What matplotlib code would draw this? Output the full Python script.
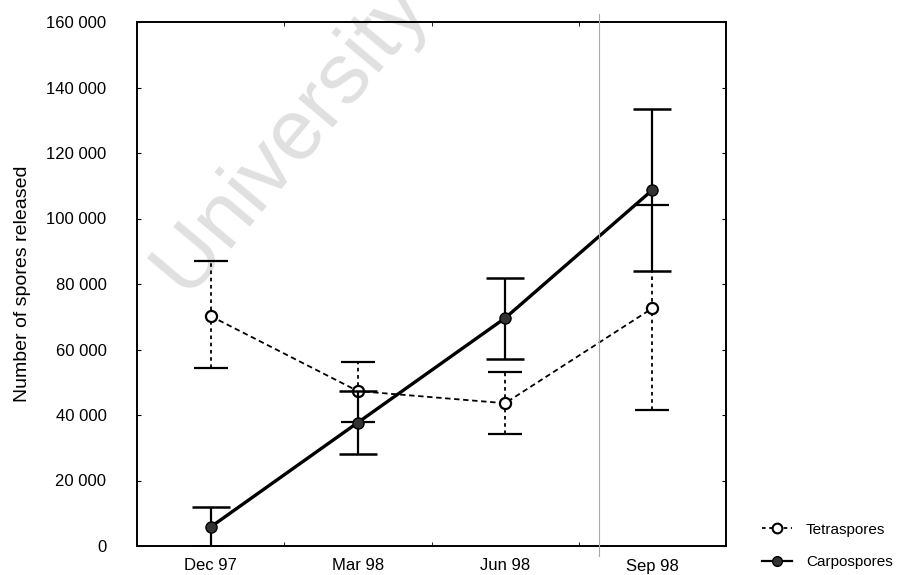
import matplotlib.pyplot as plt
from matplotlib.lines import Line2D
from matplotlib.ticker import FuncFormatter, FixedLocator

plt.rcParams['font.family'] = ['Liberation Sans', 'DejaVu Sans']

# Data
months = ['Dec 97', 'Mar 98', 'Jun 98', 'Sep 98']
tetra = [70200, 47300, 43600, 72600]
tetra_lo = [54300, 37900, 34100, 41500]
tetra_hi = [87000, 56300, 53200, 104100]
carpo = [5800, 37700, 69600, 108700]
carpo_lo = [0, 28000, 57000, 84100]
carpo_hi = [12000, 47300, 81900, 133500]

x = list(range(len(months)))

fig = plt.figure(figsize=(9.01, 5.75), dpi=100)
ax = fig.add_axes([137/901, 29/575, 589/901, 524/575])
ax.set_facecolor('none')

# faint watermark from the scan
fig.text(188/901, 1 - 300/575, 'University of Cape Town', rotation=50,
         fontsize=62, color='#e0e0e0', zorder=-5, ha='left', va='baseline',
         rotation_mode='anchor')

# Tetraspores: dashed, open circles
t_err = [[v - lo for v, lo in zip(tetra, tetra_lo)],
         [hi - v for v, hi in zip(tetra, tetra_hi)]]
eb_t = ax.errorbar(x, tetra, yerr=t_err, fmt='o', linestyle=(0, (3, 2)),
                   color='black', mfc='white', mec='black', ms=8, mew=1.6,
                   lw=1.3, elinewidth=1.3, capsize=12, capthick=1.2, zorder=3)
eb_t[2][0].set_linestyle((0, (2, 2)))

# Carpospores: solid, filled circles
c_err = [[v - lo for v, lo in zip(carpo, carpo_lo)],
         [hi - v for v, hi in zip(carpo, carpo_hi)]]
ax.errorbar(x, carpo, yerr=c_err, fmt='o', linestyle='-', color='black',
            mfc='#333333', mec='black', ms=8, lw=2.4, elinewidth=1.6,
            capsize=13.5, capthick=1.8, zorder=4)

ax.set_xlim(-0.5, 3.5)
ax.set_ylim(0, 160000)
ax.set_xticks(x)
ax.set_xticklabels(months)
ax.xaxis.set_minor_locator(FixedLocator([0.5, 1.5, 2.5]))
ax.set_yticks(range(0, 160001, 20000))
ax.yaxis.set_major_formatter(FuncFormatter(lambda v, p: f"{int(v):,}".replace(',', ' ')))

ax.tick_params(axis='x', which='major', length=0, pad=9, labelsize=12)
ax.tick_params(axis='x', which='minor', direction='in', length=3, top=True)
ax.tick_params(axis='y', direction='in', length=3, right=True, pad=22, labelsize=12)

for s in ax.spines.values():
    s.set_linewidth(1.4)

ax.set_ylabel('Number of spores released', fontsize=14)
ax.yaxis.set_label_coords(-106/589, 0.5)

# scanner edge line
fig.add_artist(Line2D([599/901, 599/901], [1 - 14/575, 1 - 556/575],
                      color='#aaaaaa', lw=0.8))

handles = [
    Line2D([], [], color='black', linestyle=(0, (2, 2)), lw=1.3, marker='o',
           mfc='white', mec='black', ms=7, mew=1.5),
    Line2D([], [], color='black', linestyle='-', lw=1.6, marker='o',
           mfc='#333333', mec='black', ms=7),
]
fig.legend(handles, ['Tetraspores', 'Carpospores'], loc='center left',
           bbox_to_anchor=(748/901, 1 - 546/575), frameon=False, fontsize=11,
           handlelength=2.0, handletextpad=0.9, labelspacing=1.2)

fig.savefig('out.png', dpi=100)
